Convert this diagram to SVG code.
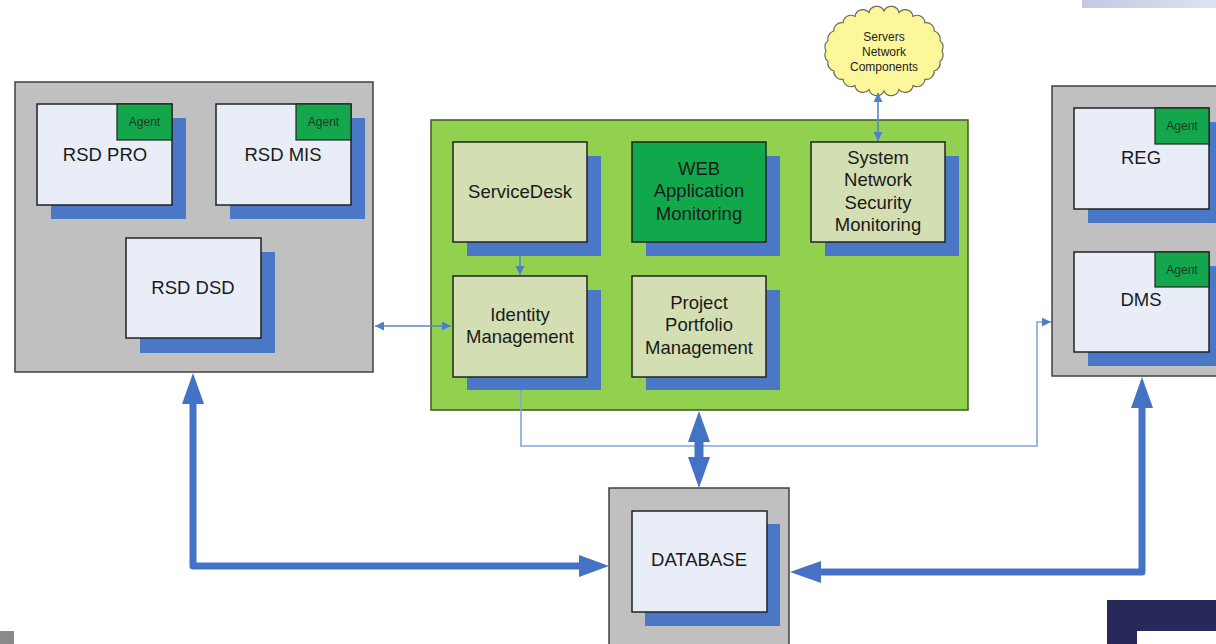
<svg xmlns="http://www.w3.org/2000/svg" width="1216" height="644" viewBox="0 0 1216 644">
<defs>
<style>
.cont{fill:#c0c0c0;stroke:#404040;stroke-width:1.5}
.green{fill:#92d050;stroke:#3d5a1e;stroke-width:1.5}
.shadow{fill:#4a78c6}
.box{fill:#e9edf8;stroke:#222;stroke-width:1.5}
.gbox{fill:#d3dfb2;stroke:#222;stroke-width:1.5}
.wbox{fill:#11a84c;stroke:#222;stroke-width:1.5}
.agent{fill:#14a64c;stroke:#222;stroke-width:1.2}
.t{font-family:"Liberation Sans",Arial,sans-serif;font-size:18.5px;fill:#1a1a1a;text-anchor:middle}
.ta{font-family:"Liberation Sans",Arial,sans-serif;font-size:12px;fill:#1e3a22;text-anchor:middle}
.tc{font-family:"Liberation Sans",Arial,sans-serif;font-size:12px;fill:#222;text-anchor:middle}
.thin{fill:none;stroke:#5b86cc;stroke-width:1.6}
.thinl{fill:none;stroke:#86a3dc;stroke-width:1.6}
.thick{fill:none;stroke:#4472c4;stroke-width:7}
.head{fill:#4472c4}
</style>
<marker id="ah" viewBox="0 0 10 10" refX="10" refY="5" markerWidth="10" markerHeight="9" markerUnits="userSpaceOnUse" orient="auto-start-reverse">
<path d="M0 0 L10 5 L0 10 Z" fill="#4f7fc8"/>
</marker>
<linearGradient id="band" x1="0" y1="0" x2="1" y2="0">
<stop offset="0" stop-color="#c3c8e4"/>
<stop offset="1" stop-color="#dfe2f0"/>
</linearGradient>
</defs>

<!-- decorations -->
<rect x="1082" y="0" width="134" height="8" fill="url(#band)"/>
<rect x="0" y="631" width="14" height="13" fill="#8a8a8a"/>
<rect x="1107" y="600" width="109" height="44" fill="#29285a"/>
<rect x="1137" y="631" width="79" height="13" fill="#ffffff"/>

<!-- left container -->
<g id="left-group">
<rect class="cont" x="15" y="82" width="358" height="290"/>
</g>
<g id="rsd-pro">
<rect class="shadow" x="51" y="118" width="135" height="101"/>
<rect class="box" x="37" y="104" width="135" height="101"/>
<rect class="agent" x="117" y="104" width="55" height="36"/>
<text class="ta" x="144.5" y="126">Agent</text>
<text class="t" x="105" y="161">RSD PRO</text>
</g>
<g id="rsd-mis">
<rect class="shadow" x="230" y="118" width="135" height="101"/>
<rect class="box" x="216" y="104" width="135" height="101"/>
<rect class="agent" x="296" y="104" width="55" height="36"/>
<text class="ta" x="323.5" y="126">Agent</text>
<text class="t" x="283" y="161">RSD MIS</text>
</g>
<g id="rsd-dsd">
<rect class="shadow" x="140" y="252" width="135" height="101"/>
<rect class="box" x="126" y="238" width="135" height="100"/>
<text class="t" x="193" y="294">RSD DSD</text>
</g>

<!-- green container -->
<g id="center-group">
<rect class="green" x="431" y="120" width="537" height="290"/>
</g>
<g id="servicedesk">
<rect class="shadow" x="467" y="156" width="134" height="100"/>
<rect class="gbox" x="453" y="142" width="134" height="100"/>
<text class="t" x="520" y="197.5">ServiceDesk</text>
</g>
<g id="web-monitoring">
<rect class="shadow" x="646" y="156" width="134" height="100"/>
<rect class="wbox" x="632" y="142" width="134" height="100"/>
<text class="t" x="699" y="174.5">WEB</text>
<text class="t" x="699" y="197">Application</text>
<text class="t" x="699" y="219.5">Monitoring</text>
</g>
<g id="system-monitoring">
<rect class="shadow" x="825" y="156" width="134" height="100"/>
<rect class="gbox" x="811" y="142" width="134" height="100"/>
<text class="t" x="878" y="163.5">System</text>
<text class="t" x="878" y="186">Network</text>
<text class="t" x="878" y="208.5">Security</text>
<text class="t" x="878" y="231">Monitoring</text>
</g>
<g id="identity">
<rect class="shadow" x="467" y="290" width="134" height="100"/>
<rect class="gbox" x="453" y="276" width="134" height="101"/>
<text class="t" x="520" y="320.5">Identity</text>
<text class="t" x="520" y="343">Management</text>
</g>
<g id="portfolio">
<rect class="shadow" x="646" y="290" width="134" height="100"/>
<rect class="gbox" x="632" y="276" width="134" height="101"/>
<text class="t" x="699" y="308.5">Project</text>
<text class="t" x="699" y="331">Portfolio</text>
<text class="t" x="699" y="353.5">Management</text>
</g>

<!-- cloud -->
<g id="cloud">
<path d="M942 51 A8 8 0 0 1 940 61.4 A8 8 0 0 1 934.2 71 A8 8 0 0 1 925 79.3 A8 8 0 0 1 913 85.6 A8 8 0 0 1 899 89.6 A8 8 0 0 1 884 91 A8 8 0 0 1 869 89.6 A8 8 0 0 1 855 85.6 A8 8 0 0 1 843 79.3 A8 8 0 0 1 833.8 71 A8 8 0 0 1 828 61.4 A8 8 0 0 1 826 51 A8 8 0 0 1 828 40.6 A8 8 0 0 1 833.8 31 A8 8 0 0 1 843 22.7 A8 8 0 0 1 855 16.4 A8 8 0 0 1 869 12.4 A8 8 0 0 1 884 11 A8 8 0 0 1 899 12.4 A8 8 0 0 1 913 16.4 A8 8 0 0 1 925 22.7 A8 8 0 0 1 934.2 31 A8 8 0 0 1 940 40.6 A8 8 0 0 1 942 51 Z" fill="#fdf79c" stroke="#6a6a55" stroke-width="1.2"/>
<text class="tc" x="884" y="41">Servers</text>
<text class="tc" x="884" y="56">Network</text>
<text class="tc" x="884" y="71">Components</text>
</g>

<!-- right container -->
<g id="right-group">
<rect class="cont" x="1052" y="86" width="180" height="290"/>
</g>
<g id="reg">
<rect class="shadow" x="1088" y="122" width="135" height="101"/>
<rect class="box" x="1074" y="108" width="135" height="101"/>
<rect class="agent" x="1155" y="108" width="54" height="36"/>
<text class="ta" x="1182" y="130">Agent</text>
<text class="t" x="1141" y="164">REG</text>
</g>
<g id="dms">
<rect class="shadow" x="1088" y="266" width="135" height="100"/>
<rect class="box" x="1074" y="252" width="135" height="100"/>
<rect class="agent" x="1155" y="252" width="54" height="35"/>
<text class="ta" x="1182" y="274">Agent</text>
<text class="t" x="1141" y="306">DMS</text>
</g>

<!-- database -->
<g id="database">
<rect class="cont" x="609" y="488" width="180" height="165"/>
<rect class="shadow" x="645" y="524" width="135" height="102"/>
<rect class="box" x="632" y="511" width="135" height="101"/>
<text class="t" x="699" y="566">DATABASE</text>
</g>

<!-- connectors -->
<g id="connectors">
<path class="thin" d="M375 326 H451" marker-start="url(#ah)" marker-end="url(#ah)"/>
<path class="thin" d="M520 256 V275" marker-end="url(#ah)"/>
<path class="thin" d="M878 93 V141" marker-start="url(#ah)" marker-end="url(#ah)"/>
<path class="thinl" d="M521 390 V446 H1037 V322 H1051" marker-end="url(#ah)"/>
<path class="thick" d="M193 400 V566 H585" stroke-linejoin="round"/>
<polygon class="head" points="193,373 182,404 204,404"/>
<polygon class="head" points="609,566 579,555 579,577"/>
<path class="thick" d="M815 572 H1142 V404" stroke-linejoin="round"/>
<polygon class="head" points="790,572 821,561 821,583"/>
<polygon class="head" points="1142,377 1131,408 1153,408"/>
<path d="M699 438 V462" stroke="#4472c4" stroke-width="9"/>
<polygon class="head" points="699,411 688,442 710,442"/>
<polygon class="head" points="699,488 688,457 710,457"/>
</g>
</svg>
